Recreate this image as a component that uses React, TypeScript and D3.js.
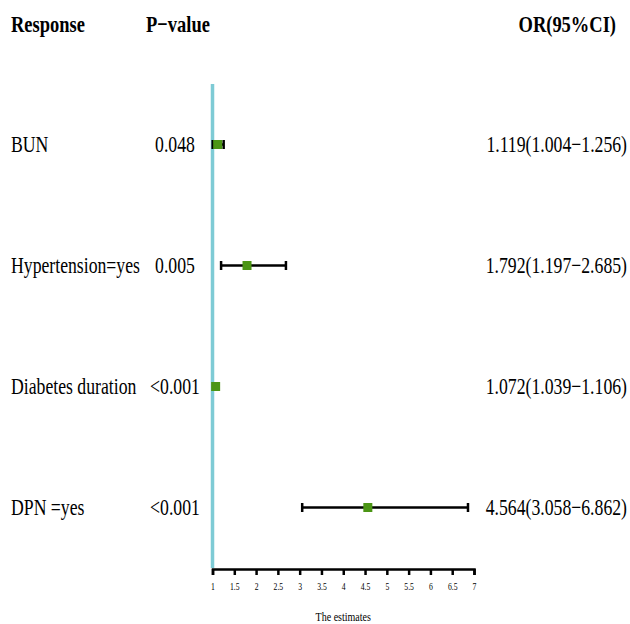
import React, { useEffect, useRef } from "react";
import * as d3 from "d3";

// data
const responses = ["BUN", "Hypertension=yes", "Diabetes duration", "DPN =yes"];
const pValues = ["0.048", "0.005", "<0.001", "<0.001"];
const oddsRatios = [1.119, 1.792, 1.072, 4.564];
const lowerCI = [1.004, 1.197, 1.039, 3.058];
const upperCI = [1.256, 2.685, 1.106, 6.862];
const orLabels = [
  "1.119(1.004\u22121.256)",
  "1.792(1.197\u22122.685)",
  "1.072(1.039\u22121.106)",
  "4.564(3.058\u22126.862)",
];
const xTicks = [1, 1.5, 2, 2.5, 3, 3.5, 4, 4.5, 5, 5.5, 6, 6.5, 7];
const headers = ["Response", "P\u2212value", "OR(95%CI)"];

const FONT = "'Liberation Serif', 'Times New Roman', serif";
const SQUEEZE = 0.77; // text in the reference is horizontally condensed

export default function App() {
  const ref = useRef<SVGSVGElement>(null);

  useEffect(() => {
    const width = 630;
    const height = 624;
    const svg = d3.select(ref.current).attr("width", width).attr("height", height);
    svg.selectAll("*").remove();

    // scales
    const xScale = d3.scaleLinear().domain([1, 7]).range([212.5, 474]);
    const yScale = d3.scaleBand().domain(responses).range([84, 568]);
    const rowY = (d: string) => (yScale(d) ?? 0) + yScale.bandwidth() / 2;

    // helper for condensed text
    const addText = (
      g: any,
      x: number,
      y: number,
      txt: string,
      size: number,
      anchor: string,
      bold = false
    ) => {
      g.append("text")
        .attr("transform", `translate(${x},${y}) scale(${SQUEEZE},1)`)
        .attr("text-anchor", anchor)
        .style("font-family", FONT)
        .style("font-size", `${size}px`)
        .style("font-weight", bold ? "bold" : "normal")
        .attr("fill", "#000")
        .text(txt);
    };

    // headers
    addText(svg, 11, 32, headers[0], 24, "start", true);
    addText(svg, 146, 32, headers[1], 24, "start", true);
    addText(svg, 616, 32, headers[2], 24, "end", true);

    // row texts
    responses.forEach((r, i) => {
      const y = rowY(r) + 7.5;
      addText(svg, 11, y, r, 23, "start");
      addText(svg, 175, y, pValues[i], 23, "middle");
      addText(svg, 627, y, orLabels[i], 23, "end");
    });

    // reference line at OR = 1
    svg.append("line")
      .attr("x1", xScale(1)).attr("x2", xScale(1))
      .attr("y1", 84).attr("y2", 568)
      .attr("stroke", "#7ecbd5")
      .attr("stroke-width", 3.5);

    // confidence intervals
    const bars = svg.append("g");
    responses.forEach((r, i) => {
      const y = rowY(r);
      const x0 = xScale(lowerCI[i]);
      const x1 = xScale(upperCI[i]);
      bars.append("line")
        .attr("x1", x0).attr("x2", x1).attr("y1", y).attr("y2", y)
        .attr("stroke", "#000").attr("stroke-width", 2.5);
      [x0, x1].forEach((x) => {
        bars.append("line")
          .attr("x1", x).attr("x2", x).attr("y1", y - 4.5).attr("y2", y + 4.5)
          .attr("stroke", "#000").attr("stroke-width", 2.5);
      });
      bars.append("rect")
        .attr("x", xScale(oddsRatios[i]) - 4.5)
        .attr("y", y - 4.5)
        .attr("width", 9)
        .attr("height", 9)
        .attr("fill", "#4b9515");
    });

    // x axis
    const axis = svg.append("g")
      .attr("transform", "translate(0,569)")
      .call(
        d3.axisBottom(xScale)
          .tickValues(xTicks)
          .tickSize(6)
          .tickSizeOuter(6)
          .tickFormat((d: any) => String(d))
      );
    axis.select(".domain").attr("stroke", "#000").attr("stroke-width", 2.5);
    axis.selectAll(".tick line").attr("stroke", "#000").attr("stroke-width", 2.5);
    axis.selectAll(".tick text")
      .attr("y", 0)
      .attr("dy", 0)
      .attr("transform", `translate(0,21) scale(${SQUEEZE},1)`)
      .style("font-family", FONT)
      .style("font-size", "10px")
      .attr("fill", "#000");

    addText(svg, (xScale(1) + xScale(7)) / 2, 621, "The estimates", 13, "middle");
  }, []);

  return (
    <svg ref={ref} style={{ position: "absolute", left: 0, top: 0, background: "#fff" }} />
  );
}
